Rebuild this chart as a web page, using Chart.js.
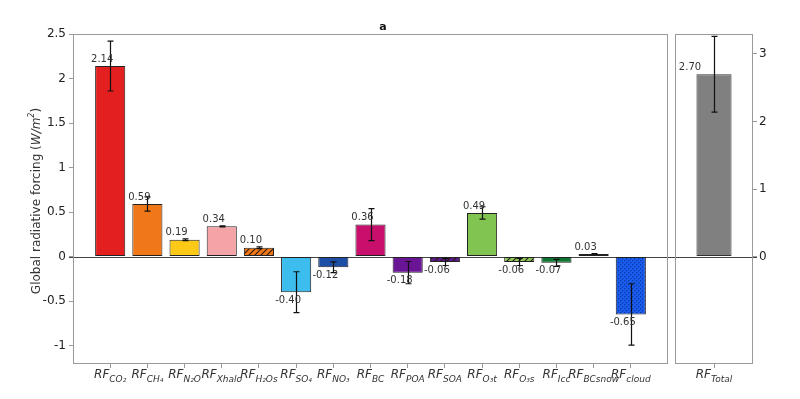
<!DOCTYPE html>
<html lang="en">
<head>
<meta charset="UTF-8">
<title>Global radiative forcing</title>
<script src="https://cdn.jsdelivr.net/npm/chart.js"></script>
<style>
    html, body { margin: 0; padding: 0; background: #fff; }
    #wrap { position: relative; width: 800px; height: 399px; }
    #mainChart { position: absolute; left: 0; top: 0; }
    #totalChart { position: absolute; left: 672px; top: 0; }
</style>
</head>
<body>
<div id="wrap">
    <canvas id="mainChart" width="672" height="399"></canvas>
    <canvas id="totalChart" width="128" height="399"></canvas>
</div>
<script>
// forcing terms (subscripts of RF)
const categories = ['CO₂', 'CH₄', 'N₂O', 'Xhalo', 'H₂Os', 'SO₄', 'NO₃', 'BC', 'POA', 'SOA', 'O₃t', 'O₃s', 'Icc', 'BCsnow', 'cloud'];
const values = [2.14, 0.59, 0.19, 0.34, 0.10, -0.40, -0.12, 0.36, -0.18, -0.06, 0.49, -0.06, -0.07, 0.03, -0.65];
const errors = [0.28, 0.08, 0.01, 0.005, 0.01, 0.23, 0.06, 0.18, 0.125, 0.04, 0.07, 0.04, 0.04, 0.005, 0.345];

const totalCategories = ['Total'];
const totalValues = [2.70];
const totalErrors = [0.56];

const leftTicks = [-1, -0.5, 0, 0.5, 1, 1.5, 2, 2.5];
const rightTicks = [0, 1, 2, 3];

// bar styles
const barColors = ['#e41f1f', '#f07818', '#fcc917', '#f4a3a6', '#f07818', '#3dbcee', '#1d4fa6', '#c90f6c',
                   '#6a1596', '#5c1a8c', '#82c452', '#8dc95a', '#0e7632', '#8c1c2e', '#1a5cf0'];
const barFill = ['', '', '', '', 'hatch', '', '', '', '', 'hatch', '', 'hatch', '', '', 'dots'];

Chart.defaults.font.family = "'DejaVu Sans', sans-serif";
Chart.defaults.color = '#333';

function makePattern(base, kind) {
    const s = kind === 'dots' ? 4 : 6;
    const c = document.createElement('canvas');
    c.width = s; c.height = s;
    const g = c.getContext('2d');
    g.fillStyle = base;
    g.fillRect(0, 0, s, s);
    if (kind === 'hatch') {
        g.strokeStyle = '#2a1a10';
        g.lineWidth = 1.1;
        g.beginPath();
        g.moveTo(0, s); g.lineTo(s, 0);
        g.moveTo(-s, s); g.lineTo(s, -s);
        g.moveTo(0, 2 * s); g.lineTo(2 * s, 0);
        g.stroke();
    } else if (kind === 'dots') {
        g.fillStyle = '#0d3aa0';
        g.fillRect(0, 0, 1.3, 1.3);
        g.fillRect(2, 2, 1.3, 1.3);
    }
    return g.createPattern(c, 'repeat');
}

const fills = barColors.map((c, i) => barFill[i] ? makePattern(c, barFill[i]) : c);

// y title with italic units and superscript
function drawYTitle(ctx, cx, cy) {
    const parts = [
        { t: 'Global radiative forcing (', f: "12px 'DejaVu Sans'", dy: 0 },
        { t: 'W/m', f: "italic 12px 'DejaVu Sans'", dy: 0 },
        { t: '2', f: "italic 8px 'DejaVu Sans'", dy: -5 },
        { t: ')', f: "12px 'DejaVu Sans'", dy: 0 }
    ];
    let total = 0;
    parts.forEach(p => { ctx.font = p.f; p.w = ctx.measureText(p.t).width; total += p.w; });
    ctx.save();
    ctx.translate(cx, cy);
    ctx.rotate(-Math.PI / 2);
    ctx.fillStyle = '#333';
    ctx.textAlign = 'left';
    ctx.textBaseline = 'middle';
    let x = -total / 2;
    parts.forEach(p => { ctx.font = p.f; ctx.fillText(p.t, x, p.dy); x += p.w; });
    ctx.restore();
}

// error bars, value labels, frame and rich x labels
function decorPlugin(errs, vals, labels, labelDx, extra) {
    return {
        id: 'decor',
        beforeDatasetsDraw(chart) {
            const { ctx, chartArea: a, scales: { y } } = chart;
            const y0 = Math.round(y.getPixelForValue(0)) + 0.5;
            ctx.save();
            ctx.strokeStyle = '#444';
            ctx.lineWidth = 1.2;
            ctx.beginPath();
            ctx.moveTo(a.left - 4, y0);
            ctx.lineTo(a.right + 4, y0);
            ctx.stroke();
            ctx.restore();
        },
        afterDatasetsDraw(chart) {
            const { ctx, scales: { y } } = chart;
            const meta = chart.getDatasetMeta(0);
            ctx.save();
            ctx.strokeStyle = '#111';
            ctx.lineWidth = 1.2;
            meta.data.forEach((bar, i) => {
                const x = Math.round(bar.x) + 0.5;
                const yt = y.getPixelForValue(vals[i] + errs[i]);
                const yb = y.getPixelForValue(vals[i] - errs[i]);
                ctx.beginPath();
                ctx.moveTo(x, yt); ctx.lineTo(x, yb);
                ctx.moveTo(x - 3, yt); ctx.lineTo(x + 3, yt);
                ctx.moveTo(x - 3, yb); ctx.lineTo(x + 3, yb);
                ctx.stroke();
            });
            ctx.fillStyle = '#333';
            ctx.font = "10px 'DejaVu Sans'";
            ctx.textAlign = 'center';
            meta.data.forEach((bar, i) => {
                const v = vals[i];
                ctx.textBaseline = v >= 0 ? 'bottom' : 'top';
                ctx.fillText(v.toFixed(2), bar.x + labelDx, v >= 0 ? bar.y - 2 : bar.y + 3);
            });
            ctx.restore();
        },
        afterDraw(chart) {
            const { ctx, chartArea: a } = chart;
            const meta = chart.getDatasetMeta(0);
            ctx.save();
            ctx.strokeStyle = '#9a9a9a';
            ctx.lineWidth = 1;
            ctx.strokeRect(a.left + 0.5, a.top + 0.5, a.right - a.left - 1, a.bottom - a.top - 1);
            ctx.fillStyle = '#333';
            ctx.textBaseline = 'alphabetic';
            ctx.textAlign = 'left';
            meta.data.forEach((bar, i) => {
                const big = "italic 12px 'DejaVu Sans'";
                const small = "italic 9px 'DejaVu Sans'";
                ctx.font = big;
                const w1 = ctx.measureText('RF').width;
                ctx.font = small;
                const w2 = ctx.measureText(labels[i]).width;
                const x0 = bar.x - (w1 + w2) / 2;
                ctx.font = big;
                ctx.fillText('RF', x0, a.bottom + 14);
                ctx.font = small;
                ctx.fillText(labels[i], x0 + w1, a.bottom + 18);
            });
            if (extra) {
                ctx.font = "bold 11px 'DejaVu Sans'";
                ctx.textAlign = 'center';
                ctx.fillStyle = '#111';
                ctx.fillText(extra.title, extra.tx, extra.ty);
                drawYTitle(ctx, extra.yx, (a.top + a.bottom) / 2 + 2);
            }
            ctx.restore();
        }
    };
}

const tickGrid = { drawOnChartArea: false, drawTicks: true, tickLength: 4, color: '#9a9a9a' };

new Chart(document.getElementById('mainChart'), {
    type: 'bar',
    data: {
        datasets: [{
            data: values.map((v, i) => ({ x: i, y: v })),
            backgroundColor: fills,
            borderColor: '#222',
            borderWidth: 1,
            borderSkipped: false,
            barPercentage: 0.81,
            categoryPercentage: 1
        }]
    },
    options: {
        responsive: false,
        animation: false,
        layout: { padding: { top: 34, right: 4, left: 0, bottom: 0 } },
        plugins: { legend: { display: false }, tooltip: { enabled: false } },
        scales: {
            x: {
                type: 'linear',
                min: -1,
                max: 15,
                offset: false,
                grid: Object.assign({}, tickGrid, { offset: false }),
                border: { display: false },
                ticks: { autoSkip: false, callback: () => '' },
                afterBuildTicks: s => { s.ticks = categories.map((_, i) => ({ value: i })); },
                afterFit: s => { s.height = 35; }
            },
            y: {
                min: -1.206,
                max: 2.5,
                grid: tickGrid,
                border: { display: false },
                ticks: { color: '#222', font: { size: 12 }, padding: 3, callback: v => String(v) },
                afterBuildTicks: s => { s.ticks = leftTicks.map(v => ({ value: v })); },
                afterFit: s => { s.width = 73; }
            }
        }
    },
    plugins: [decorPlugin(errors, values, categories, -8, { title: 'a', tx: 383, ty: 30, yx: 37 })]
});

new Chart(document.getElementById('totalChart'), {
    type: 'bar',
    data: {
        labels: totalCategories,
        datasets: [{
            data: totalValues,
            backgroundColor: '#808080',
            borderColor: '#333',
            borderWidth: 1,
            borderSkipped: false,
            barPercentage: 0.45,
            categoryPercentage: 1
        }]
    },
    options: {
        responsive: false,
        animation: false,
        layout: { padding: { top: 34, right: 0, left: 3, bottom: 0 } },
        plugins: { legend: { display: false }, tooltip: { enabled: false } },
        scales: {
            x: {
                grid: Object.assign({}, tickGrid, { offset: false }),
                border: { display: false },
                ticks: { callback: () => '' },
                afterFit: s => { s.height = 35; }
            },
            y: {
                position: 'right',
                min: -1.59,
                max: 3.296,
                grid: tickGrid,
                border: { display: false },
                ticks: { color: '#222', font: { size: 12 }, padding: 2, callback: v => String(v) },
                afterBuildTicks: s => { s.ticks = rightTicks.map(v => ({ value: v })); },
                afterFit: s => { s.width = 47; }
            }
        }
    },
    plugins: [decorPlugin(totalErrors, totalValues, totalCategories, -24, null)]
});
</script>
</body>
</html>
